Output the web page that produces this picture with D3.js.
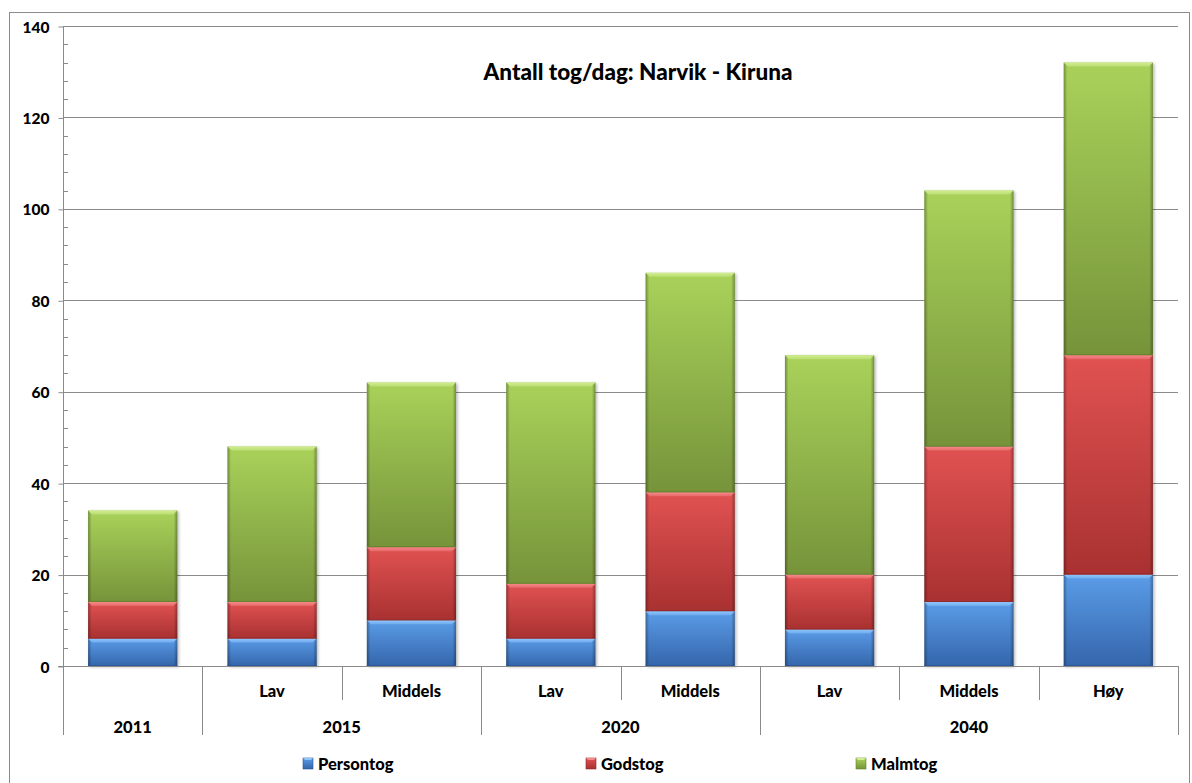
<!DOCTYPE html>
<html>
<head>
<meta charset="utf-8">
<script src="https://cdn.jsdelivr.net/npm/d3@7/dist/d3.min.js"></script>
<style>
  html, body { margin: 0; padding: 0; background: #fff; }
  svg { display: block; font-family: Lato, "Noto Sans", sans-serif; font-weight: 900; }
</style>
</head>
<body>
<svg id="chart" width="1192" height="783"></svg>
<script>
// Scenario labels (inner axis level) and year groups (outer axis level)
const scenarios = ["", "Lav", "Middels", "Lav", "Middels", "Lav", "Middels", "Høy"];
const years = ["2011", "2015", "2020", "2040"];
const yearSpans = [1, 2, 2, 3];

// Trains per day by type
const persontog = [6, 6, 10, 6, 12, 8, 14, 20];
const godstog   = [8, 8, 16, 12, 26, 12, 34, 48];
const malmtog   = [20, 34, 36, 44, 48, 48, 56, 64];

const seriesNames = ["Persontog", "Godstog", "Malmtog"];
const yTicks = [0, 20, 40, 60, 80, 100, 120, 140];

const svg = d3.select("#chart");
const plot = { left: 63, right: 1178, top: 26, bottom: 666 };
const FONT = 'Lato, "Noto Sans", sans-serif';
const WEIGHT = 900;

// Series colour sets: [top, bottom, bevel highlight, edge]
const palettes = [
  { top: "#5b9ce8", bot: "#3466ab", hi: "#8fc6fc", edge: "#2a5594" },
  { top: "#e15252", bot: "#a93131", hi: "#f58a8a", edge: "#8e2828" },
  { top: "#a9d25a", bot: "#76933a", hi: "#d2ee92", edge: "#64802e" }
];

const defs = svg.append("defs");
palettes.forEach((p, i) => {
  const g = defs.append("linearGradient").attr("id", "fill" + i)
    .attr("x1", 0).attr("y1", 0).attr("x2", 0).attr("y2", 1);
  g.append("stop").attr("offset", "0%").attr("stop-color", p.top);
  g.append("stop").attr("offset", "100%").attr("stop-color", p.bot);
  const h = defs.append("linearGradient").attr("id", "hi" + i)
    .attr("x1", 0).attr("y1", 0).attr("x2", 0).attr("y2", 1);
  h.append("stop").attr("offset", "0%").attr("stop-color", p.hi).attr("stop-opacity", 1);
  h.append("stop").attr("offset", "100%").attr("stop-color", p.hi).attr("stop-opacity", 0.4);
});
const side = defs.append("linearGradient").attr("id", "side")
  .attr("x1", 0).attr("y1", 0).attr("x2", 1).attr("y2", 0);
[[0, 0.32], [0.04, 0.0], [0.96, 0.0], [1, 0.32]].forEach(([o, a]) =>
  side.append("stop").attr("offset", o).attr("stop-color", "#000").attr("stop-opacity", a));
const blur = defs.append("filter").attr("id", "shadow")
  .attr("x", "-10%").attr("y", "-10%").attr("width", "130%").attr("height", "130%");
blur.append("feGaussianBlur").attr("stdDeviation", 1.5);

// Chart frame
svg.append("rect")
  .attr("x", 9.5).attr("y", 12.5).attr("width", 1180).attr("height", 790)
  .attr("fill", "none").attr("stroke", "#8c8c8c").attr("stroke-width", 1);

const idx = d3.range(scenarios.length);
const x = d3.scaleBand().domain(idx).range([plot.left, plot.right])
  .paddingInner(0.36).paddingOuter(0.18);
const step = x.step();
const y = d3.scaleLinear().domain([0, 140]).range([plot.bottom, plot.top]);

// Horizontal gridlines
svg.append("g").selectAll("line").data(yTicks.slice(1)).join("line")
  .attr("x1", plot.left).attr("x2", plot.right)
  .attr("y1", d => Math.round(y(d)) + 0.5).attr("y2", d => Math.round(y(d)) + 0.5)
  .attr("stroke", "#8a8a8a").attr("stroke-width", 1);

// Y axis with major and minor ticks
const yAxis = svg.append("g").attr("transform", `translate(${plot.left + 0.5},0.5)`)
  .call(d3.axisLeft(y).tickValues(yTicks).tickSize(5).tickPadding(9).tickFormat(d3.format("d")));
yAxis.attr("font-family", FONT).attr("font-size", 15.5);
yAxis.select(".domain").remove();
yAxis.selectAll(".tick line").attr("stroke", "#8a8a8a");
yAxis.selectAll(".tick text").attr("fill", "#000").attr("font-weight", WEIGHT).attr("dy", "0.36em");
const minorTicks = d3.range(0, 141, 4).filter(v => v % 20 !== 0);
svg.append("g").selectAll("line").data(minorTicks).join("line")
  .attr("x1", plot.left).attr("x2", plot.left + 5)
  .attr("y1", d => Math.round(y(d)) + 0.5).attr("y2", d => Math.round(y(d)) + 0.5)
  .attr("stroke", "#8a8a8a");

// Stacked bars
const stacked = d3.stack().keys([0, 1, 2])(idx.map(i => [persontog[i], godstog[i], malmtog[i]]));
const bars = svg.append("g");
// soft shadow behind each full column
bars.selectAll("rect.shadow").data(idx).join("rect").attr("class", "shadow")
  .attr("x", i => x(i) + 1.5).attr("y", i => y(stacked[2][i][1]) + 1)
  .attr("width", x.bandwidth()).attr("height", i => y(0) - y(stacked[2][i][1]))
  .attr("fill", "#000").attr("opacity", 0.28).attr("filter", "url(#shadow)");

stacked.forEach((layer, s) => {
  const g = bars.append("g");
  layer.forEach((d, i) => {
    const x0 = x(i), w = x.bandwidth();
    const yTop = y(d[1]), yBot = y(d[0]);
    const h = yBot - yTop;
    g.append("rect").attr("x", x0).attr("y", yTop).attr("width", w).attr("height", h)
      .attr("fill", `url(#fill${s})`);
    g.append("rect").attr("x", x0).attr("y", yTop).attr("width", w).attr("height", h)
      .attr("fill", "url(#side)");
    const b = 4;
    g.append("path")
      .attr("d", `M${x0},${yTop}L${x0 + w},${yTop}L${x0 + w - b},${yTop + b}L${x0 + b},${yTop + b}Z`)
      .attr("fill", `url(#hi${s})`);
    g.append("line").attr("x1", x0).attr("x2", x0 + w).attr("y1", yBot - 0.5).attr("y2", yBot - 0.5)
      .attr("stroke", palettes[s].edge).attr("stroke-opacity", 0.8);
  });
});

// Category axis: baseline, dividers and two label levels
const catAxis = svg.append("g").attr("stroke", "#8a8a8a").attr("stroke-width", 1);
catAxis.append("line")
  .attr("x1", plot.left - 5).attr("x2", plot.right)
  .attr("y1", plot.bottom + 0.5).attr("y2", plot.bottom + 0.5);
catAxis.append("line")
  .attr("x1", plot.left + 0.5).attr("x2", plot.left + 0.5)
  .attr("y1", plot.top).attr("y2", 735);

const groupEnds = d3.cumsum(yearSpans);
const groupStarts = [0, ...groupEnds.slice(0, -1)];
for (let k = 1; k <= scenarios.length; k++) {
  const isGroupEnd = groupEnds.includes(k);
  const xx = Math.round(plot.left + k * step) + 0.5;
  catAxis.append("line").attr("x1", xx).attr("x2", xx)
    .attr("y1", plot.bottom).attr("y2", isGroupEnd ? 735 : 700);
}

svg.append("g").selectAll("text").data(idx).join("text")
  .attr("x", i => x(i) + x.bandwidth() / 2).attr("y", 697)
  .attr("text-anchor", "middle").attr("font-size", 16.5).attr("fill", "#000")
  .text(i => scenarios[i]);

svg.append("g").selectAll("text").data(years).join("text")
  .attr("x", (d, k) => plot.left + (groupStarts[k] + yearSpans[k] / 2) * step)
  .attr("y", 733).attr("text-anchor", "middle").attr("font-size", 16.5).attr("fill", "#000")
  .text(d => d);

// Title
svg.append("text").attr("x", 638).attr("y", 80).attr("text-anchor", "middle")
  .attr("font-size", 22.5).attr("fill", "#000")
  .text("Antall tog/dag: Narvik - Kiruna");

// Legend
const legendX = [303, 586, 856];
const legend = svg.append("g").selectAll("g").data(seriesNames).join("g")
  .attr("transform", (d, i) => `translate(${legendX[i]},758)`);
legend.append("rect").attr("width", 10).attr("height", 11)
  .attr("fill", (d, i) => `url(#fill${i})`)
  .attr("stroke", (d, i) => palettes[i].edge).attr("stroke-width", 0.6);
legend.append("path").attr("d", "M0,0L10,0L8,2L2,2Z").attr("fill", (d, i) => palettes[i].hi);
legend.append("text").attr("x", 15).attr("y", 12).attr("font-size", 16.5).attr("fill", "#000")
  .text(d => d);
</script>
</body>
</html>
